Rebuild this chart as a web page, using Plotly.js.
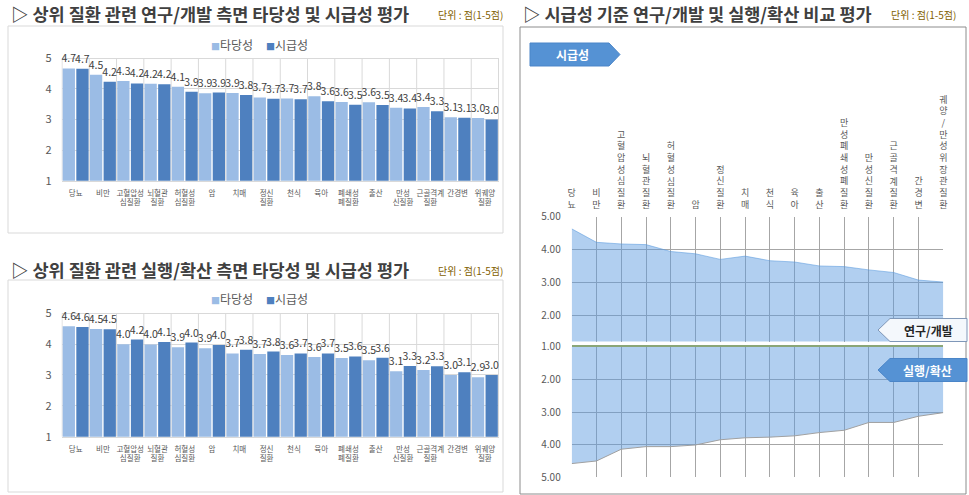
<!DOCTYPE html>
<html>
<head>
<meta charset="utf-8">
<script src="https://cdn.plot.ly/plotly-3.0.1.min.js"></script>
<style>html,body{margin:0;padding:0;background:#fff;}#chart{width:969px;height:495px;}</style>
</head>
<body>
<div id="chart"></div>
<script>
// ---------- data ----------
const barCategories = ['당뇨','비만','고혈압성 심질환','뇌혈관 질환','허혈성 심질환','암','치매','정신 질환','천식','육아','폐쇄성 폐질환','출산','만성 신질환','근골격계 질환','간경변','위궤양 질환'];
const seriesNames = ['타당성','시급성'];
// 연구/개발 측면
const rdValidity = [4.67,4.46,4.26,4.17,4.07,3.86,3.87,3.72,3.69,3.76,3.57,3.56,3.38,3.41,3.07,3.05];
const rdUrgency  = [4.66,4.23,4.18,4.15,3.91,3.88,3.80,3.68,3.66,3.60,3.48,3.47,3.36,3.27,3.06,3.00];
// 실행/확산 측면
const exValidity = [4.58,4.49,4.00,3.99,3.90,3.87,3.70,3.68,3.65,3.58,3.55,3.48,3.12,3.16,3.00,2.93];
const exUrgency  = [4.56,4.48,4.15,4.07,4.05,3.97,3.82,3.76,3.70,3.70,3.60,3.56,3.29,3.28,3.09,3.00];
// 시급성 기준 비교 (right chart)
const cmpCategories = ['당뇨','비만','고혈압성 심질환','뇌혈관질환','허혈성 심질환','암','정신질환','치매','천식','육아','출산','만성 폐쇄성 폐질환','만성 신질환','근골격계 질환','간경변','궤양/만성 위장관 질환'];
const cmpRD = [4.63,4.22,4.17,4.15,3.94,3.87,3.70,3.80,3.66,3.62,3.50,3.48,3.38,3.30,3.07,3.01];
const cmpEX = [4.58,4.50,4.14,4.06,4.06,4.01,3.85,3.79,3.77,3.73,3.63,3.56,3.32,3.32,3.13,3.02];
const barTicks = [1,2,3,4,5];
const areaTicksTop = [2,3,4,5];
const areaTicksBottom = [1,2,3,4,5];

// ---------- helpers ----------
const W = 969, H = 495;
const px = x => x / W;
const py = y => 1 - y / H;
const FONT = '"Noto Sans CJK KR", "Noto Sans", sans-serif';
const LIGHT = '#9BBCE5', DARK = '#4E80BF';
const GRID = '#d9d9d9', TXT = '#595959';

const leftLabels = barCategories.map(s => s.replace(' ', '<br>'));
const vertLabels = cmpCategories.map(s => s.replace(/ /g, '').split('').join('<br>'));

function barTrace(y, name, color, xa, ya) {
  return {
    type: 'bar', x: barCategories, y: y, name: name, xaxis: xa, yaxis: ya,
    marker: {color: color, line: {width: 0}},
    texttemplate: '%{y:.1f}', textposition: 'outside', constraintext: 'none',
    textfont: {size: 10.5, color: '#404040', family: FONT},
    showlegend: false, hoverinfo: 'x+y'
  };
}

const traces = [
  barTrace(rdValidity, seriesNames[0], LIGHT, 'x', 'y'),
  barTrace(rdUrgency, seriesNames[1], DARK, 'x', 'y'),
  barTrace(exValidity, seriesNames[0], LIGHT, 'x2', 'y2'),
  barTrace(exUrgency, seriesNames[1], DARK, 'x2', 'y2'),
  {type: 'scatter', mode: 'lines', x: cmpCategories, y: cmpRD, xaxis: 'x3', yaxis: 'y3',
   fill: 'tozeroy', fillcolor: 'rgba(91,155,223,0.48)', line: {color: 'rgba(91,155,223,0.55)', width: 1},
   showlegend: false, name: '연구/개발'},
  {type: 'scatter', mode: 'lines', x: cmpCategories, y: cmpEX, xaxis: 'x4', yaxis: 'y4',
   fill: 'tozeroy', fillcolor: 'rgba(91,155,223,0.48)', line: {color: '#a0a0a0', width: 1},
   showlegend: false, name: '실행/확산'}
];

// left plot geometry
const LX0 = 61.5, LX1 = 499;
const TL = {y1: 180.7, y5: 58.3};
const BL = {y1: 436.7, y5: 313.3};
const TOPR = 5.45;
function domY(g) {
  const unit = (g.y1 - g.y5) / 4;
  const top = g.y1 - (TOPR - 1) * unit;
  return [py(g.y1), py(top)];
}

function barX(anchor) {
  return {
    domain: [px(LX0), px(LX1)], anchor: anchor, type: 'category',
    tickvals: barCategories, ticktext: leftLabels, tickangle: 0,
    tickfont: {size: 7.5, color: TXT, family: FONT}, ticks: '', ticklabelstandoff: 5,
    showgrid: false, showline: true, linecolor: GRID, zeroline: false, fixedrange: true
  };
}
function barY(anchor, g) {
  return {
    domain: domY(g), anchor: anchor, range: [1, TOPR], tickvals: barTicks,
    tickfont: {size: 11, color: TXT, family: FONT}, ticks: '', ticklabelstandoff: 9,
    showgrid: true, gridcolor: GRID, zeroline: false, showline: false, fixedrange: true
  };
}

const RX0 = 571.7, RX1 = 943.3;
const shapes = [];
// category separators in bar charts
for (let i = 0; i <= barCategories.length; i++) {
  ['x', 'x2'].forEach((xr, k) => {
    shapes.push({type: 'line', xref: xr, yref: k ? 'y2' : 'y', x0: i - 0.5, x1: i - 0.5, y0: 1, y1: 5,
      line: {color: GRID, width: 1}, layer: 'below'});
  });
}
// panel frames
shapes.push({type: 'rect', xref: 'paper', yref: 'paper', x0: px(8), x1: px(503), y0: py(26), y1: py(233), line: {color: '#d9d9d9', width: 1}});
shapes.push({type: 'rect', xref: 'paper', yref: 'paper', x0: px(8), x1: px(503), y0: py(280), y1: py(492), line: {color: '#d9d9d9', width: 1}});
shapes.push({type: 'rect', xref: 'paper', yref: 'paper', x0: px(520), x1: px(966), y0: py(27), y1: py(494), line: {color: '#8c8c8c', width: 1}});
// tags
function pathPx(pts) {
  return 'M' + pts.map(p => px(p[0]).toFixed(5) + ',' + py(p[1]).toFixed(5)).join('L') + 'Z';
}
shapes.push({type: 'path', xref: 'paper', yref: 'paper', path: pathPx([[530,43],[609,43],[620,54.5],[609,66],[530,66]]),
  fillcolor: '#5592D4', line: {color: '#4a85c8', width: 1}});
shapes.push({type: 'path', xref: 'paper', yref: 'paper', path: pathPx([[878,330],[890,318.5],[967,318.5],[967,341.5],[890,341.5]]),
  fillcolor: '#F4F8FC', line: {color: '#7f97b8', width: 1}});
shapes.push({type: 'path', xref: 'paper', yref: 'paper', path: pathPx([[878,370],[890,358.5],[967,358.5],[967,381.5],[890,381.5]]),
  fillcolor: '#5592D4', line: {color: '#4a85c8', width: 1}});

function ann(text, x, y, size, color, opts) {
  return Object.assign({xref: 'paper', yref: 'paper', x: px(x), y: py(y), text: text, showarrow: false,
    xanchor: 'left', yanchor: 'middle', font: {size: size, color: color, family: FONT}}, opts || {});
}
const UNIT = '단위 : 점(1-5점)';
const UCOL = '#7F6000';
const TSIZE = 17.5;
const sq = c => '<span style="color:' + c + ';font-size:9px">■</span>';
const annotations = [
  ann('<b>▷ 상위 질환 관련 연구/개발 측면 타당성 및 시급성 평가</b>', 9, 14, TSIZE, '#404040'),
  ann(UNIT, 505, 15, 10, UCOL, {xanchor: 'right'}),
  ann('<b>▷ 상위 질환 관련 실행/확산 측면 타당성 및 시급성 평가</b>', 9, 269.5, TSIZE, '#404040'),
  ann(UNIT, 505, 270, 10, UCOL, {xanchor: 'right'}),
  ann('<b>▷ 시급성 기준 연구/개발 및 실행/확산 비교 평가</b>', 521, 14, TSIZE, '#404040'),
  ann(UNIT, 958, 15, 10, UCOL, {xanchor: 'right'}),
  ann(sq(LIGHT) + seriesNames[0], 209, 44, 12, TXT),
  ann(sq(DARK) + seriesNames[1], 264, 44, 12, TXT),
  ann(sq(LIGHT) + seriesNames[0], 209, 298, 12, TXT),
  ann(sq(DARK) + seriesNames[1], 264, 298, 12, TXT),
  ann('<b>시급성</b>', 572, 54.5, 12, '#ffffff', {xanchor: 'center'}),
  ann('<b>연구/개발</b>', 928, 330, 12, '#262626', {xanchor: 'center'}),
  ann('<b>실행/확산</b>', 927, 370, 12, '#ffffff', {xanchor: 'center'})
];

const RGRID = '#a6a6a6';
const layout = {
  width: W, height: H, margin: {l: 0, r: 0, t: 0, b: 0},
  paper_bgcolor: '#ffffff', plot_bgcolor: 'rgba(0,0,0,0)',
  font: {family: FONT, color: TXT},
  barmode: 'group', bargap: 0, bargroupgap: 0.1,
  hovermode: false, showlegend: false,
  xaxis: barX('y'), yaxis: barY('x', TL),
  xaxis2: barX('y2'), yaxis2: barY('x2', BL),
  xaxis3: {domain: [px(RX0), px(RX1)], anchor: 'y3', type: 'category', range: [0, cmpCategories.length - 1],
    side: 'top', tickvals: cmpCategories, ticktext: vertLabels, tickangle: 0, ticks: '', ticklabelstandoff: 6,
    tickfont: {size: 9, color: TXT, family: FONT}, showgrid: true, gridcolor: RGRID, zeroline: false, showline: false, fixedrange: true},
  yaxis3: {domain: [py(341.5), py(216.7)], anchor: 'x3', range: [1.2, 5], tickvals: areaTicksTop, tickformat: '.2f',
    tickfont: {size: 10, color: TXT, family: FONT}, ticks: '', ticklabelstandoff: 10,
    showgrid: true, gridcolor: RGRID, zeroline: false, showline: false, fixedrange: true},
  xaxis4: {domain: [px(RX0), px(RX1)], anchor: 'y4', type: 'category', range: [0, cmpCategories.length - 1],
    side: 'top', showticklabels: false, ticks: '', showgrid: true, gridcolor: RGRID, zeroline: false,
    showline: true, linecolor: '#8aa678', linewidth: 1.5, fixedrange: true},
  yaxis4: {domain: [py(477.3), py(346.7)], anchor: 'x4', range: [5, 1], tickvals: areaTicksBottom, tickformat: '.2f',
    tickfont: {size: 10, color: TXT, family: FONT}, ticks: '', ticklabelstandoff: 10,
    showgrid: true, gridcolor: RGRID, zeroline: false, showline: false, fixedrange: true},
  shapes: shapes, annotations: annotations
};

Plotly.newPlot('chart', traces, layout, {displayModeBar: false, staticPlot: true});
</script>
</body>
</html>
